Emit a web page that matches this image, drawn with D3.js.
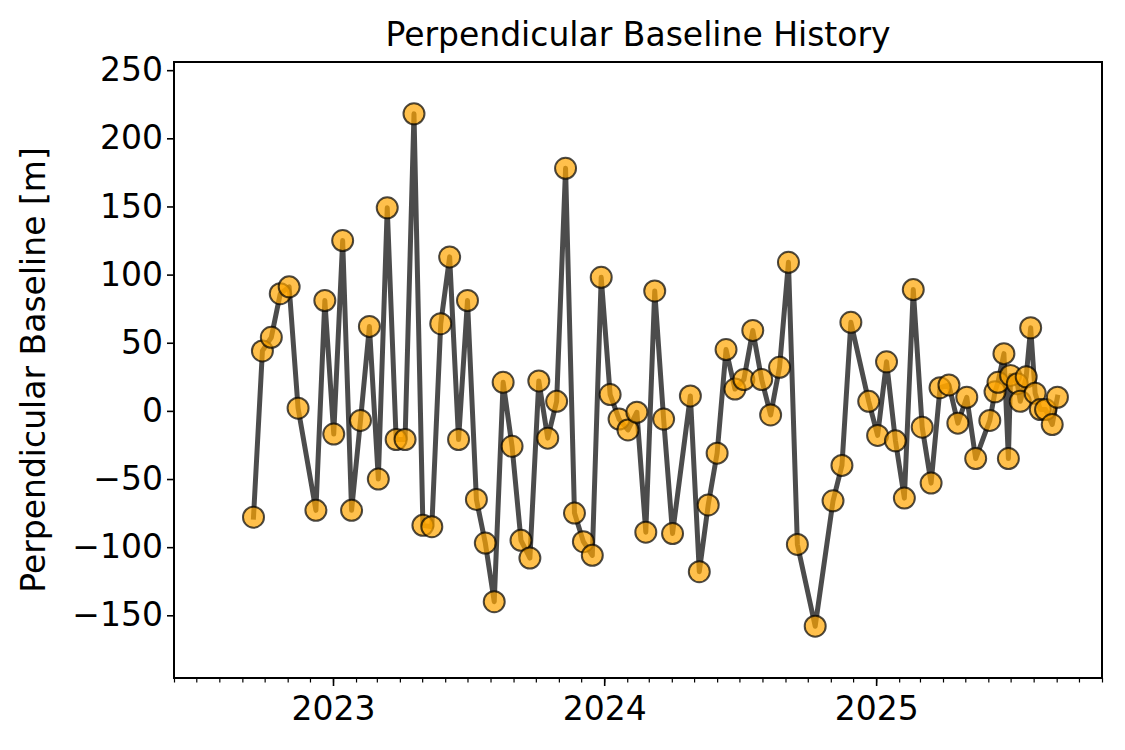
<!DOCTYPE html>
<html>
<head>
<meta charset="utf-8">
<script src="https://cdn.jsdelivr.net/npm/d3@7"></script>
<style>
  html, body { margin: 0; padding: 0; background: #fff; }
  svg { display: block; font-family: "DejaVu Sans", sans-serif; }
</style>
</head>
<body>
<svg id="chart" width="1125" height="750"></svg>
<script>
// ---- data ----
const acquisitionDates = [
  "2022-09-16","2022-09-28","2022-10-10","2022-10-22","2022-11-03","2022-11-15",
  "2022-12-09","2022-12-21","2023-01-02","2023-01-14","2023-01-26","2023-02-07",
  "2023-02-19","2023-03-03","2023-03-15","2023-03-27","2023-04-08","2023-04-20",
  "2023-05-02","2023-05-14","2023-05-26","2023-06-07","2023-06-19","2023-07-01",
  "2023-07-13","2023-07-25","2023-08-06","2023-08-18","2023-08-30","2023-09-11",
  "2023-09-23","2023-10-05","2023-10-17","2023-10-29","2023-11-10","2023-11-22",
  "2023-12-04","2023-12-16","2023-12-28","2024-01-09","2024-01-21","2024-02-02",
  "2024-02-14","2024-02-26","2024-03-09","2024-03-21","2024-04-02","2024-04-26",
  "2024-05-08","2024-05-20","2024-06-01","2024-06-13","2024-06-25","2024-07-07",
  "2024-07-19","2024-07-31","2024-08-12","2024-08-24","2024-09-05","2024-09-17",
  "2024-10-11","2024-11-04","2024-11-16","2024-11-28","2024-12-22","2025-01-03",
  "2025-01-15","2025-01-27","2025-02-08","2025-02-20","2025-03-04","2025-03-16",
  "2025-03-28","2025-04-09","2025-04-21","2025-05-03","2025-05-15","2025-06-03",
  "2025-06-10","2025-06-14","2025-06-22","2025-06-28","2025-07-01","2025-07-10",
  "2025-07-14","2025-07-22","2025-07-28","2025-08-03","2025-08-10","2025-08-17",
  "2025-08-26","2025-09-02"
];
const perpBaseline = [
  -78, 44, 54, 86, 91, 2,
  -73, 81, -17, 125, -73, -7,
  62, -50, 149, -21, -21, 218,
  -84, -85, 64, 113, -21, 81,
  -65, -97, -140, 21, -26, -95,
  -108, 22, -20, 7, 178, -75,
  -96, -106, 98, 12, -6, -14,
  -1, -89, 88, -6, -90, 11,
  -118, -69, -31, 45, 16, 23,
  59, 23, -3, 32, 109, -98,
  -158, -66, -40, 65, 7, -18,
  36, -22, -64, 89, -12, -53,
  17, 19, -9, 10, -35, -7,
  14, 21, 42, -35, 26, 20,
  7, 25, 61, 13, 1, 1,
  -10, 10
];
const yTickValues = [-150, -100, -50, 0, 50, 100, 150, 200, 250];
const xTickLabels = ["2023", "2024", "2025"];
const chartTitle = "Perpendicular Baseline History";
const yAxisLabel = "Perpendicular Baseline [m]";

// ---- layout ----
const plot = { left: 174, right: 1102, top: 62, bottom: 678 };
const fontSize = "33px";
const parse = d3.utcParse("%Y-%m-%d");
const data = acquisitionDates.map((d, i) => ({ date: parse(d), v: perpBaseline[i] }));

const x = d3.scaleUtc()
  .domain([parse("2022-06-01"), parse("2025-11-01")])
  .range([plot.left, plot.right]);
const y = d3.scaleLinear()
  .domain([-196, 256])
  .range([plot.bottom, plot.top]);

const svg = d3.select("#chart");

// line + markers
const line = d3.line().x(d => x(d.date)).y(d => y(d.v));
svg.append("path")
  .datum(data)
  .attr("d", line)
  .attr("fill", "none")
  .attr("stroke", "#000")
  .attr("stroke-opacity", 0.7)
  .attr("stroke-width", 5)
  .attr("stroke-linejoin", "round")
  .attr("stroke-linecap", "square");

svg.append("g").selectAll("circle")
  .data(data)
  .join("circle")
  .attr("cx", d => x(d.date))
  .attr("cy", d => y(d.v))
  .attr("r", 10.5)
  .attr("fill", "#FFA500")
  .attr("fill-opacity", 0.7)
  .attr("stroke", "#000")
  .attr("stroke-opacity", 0.7)
  .attr("stroke-width", 2);

// axes
const yAxis = d3.axisLeft(y)
  .tickValues(yTickValues)
  .tickSize(7)
  .tickPadding(4)
  .tickFormat(d => d < 0 ? "\u2212" + Math.abs(d) : String(d));
const gy = svg.append("g").attr("transform", `translate(${plot.left},0)`).call(yAxis);
gy.select(".domain").remove();
gy.selectAll("line").attr("stroke", "#000").attr("stroke-width", 1.6);
gy.selectAll("text").attr("font-size", fontSize).attr("fill", "#000")
  .attr("font-family", "DejaVu Sans, sans-serif");

const minorAxis = d3.axisBottom(x)
  .ticks(d3.utcMonth.every(1))
  .tickSize(4.5)
  .tickFormat("");
const gxm = svg.append("g").attr("transform", `translate(0,${plot.bottom})`).call(minorAxis);
gxm.select(".domain").remove();
gxm.selectAll("line").attr("stroke", "#000").attr("stroke-width", 1.2);

const yearTicks = xTickLabels.map(s => parse(s + "-01-01"));
const majorAxis = d3.axisBottom(x)
  .tickValues(yearTicks)
  .tickSize(8)
  .tickPadding(11)
  .tickFormat((d, i) => xTickLabels[i]);
const gx = svg.append("g").attr("transform", `translate(0,${plot.bottom})`).call(majorAxis);
gx.select(".domain").remove();
gx.selectAll("line").attr("stroke", "#000").attr("stroke-width", 1.6);
gx.selectAll("text").attr("font-size", fontSize).attr("fill", "#000")
  .attr("font-family", "DejaVu Sans, sans-serif");

// frame
svg.append("rect")
  .attr("x", plot.left).attr("y", plot.top)
  .attr("width", plot.right - plot.left).attr("height", plot.bottom - plot.top)
  .attr("fill", "none").attr("stroke", "#000").attr("stroke-width", 2);

// title
svg.append("text")
  .attr("x", (plot.left + plot.right) / 2)
  .attr("y", 46)
  .attr("text-anchor", "middle")
  .attr("font-size", fontSize)
  .attr("fill", "#000")
  .text(chartTitle);

// y label
svg.append("text")
  .attr("transform", `translate(45,${(plot.top + plot.bottom) / 2}) rotate(-90)`)
  .attr("text-anchor", "middle")
  .attr("font-size", fontSize)
  .attr("fill", "#000")
  .text(yAxisLabel);
</script>
</body>
</html>
